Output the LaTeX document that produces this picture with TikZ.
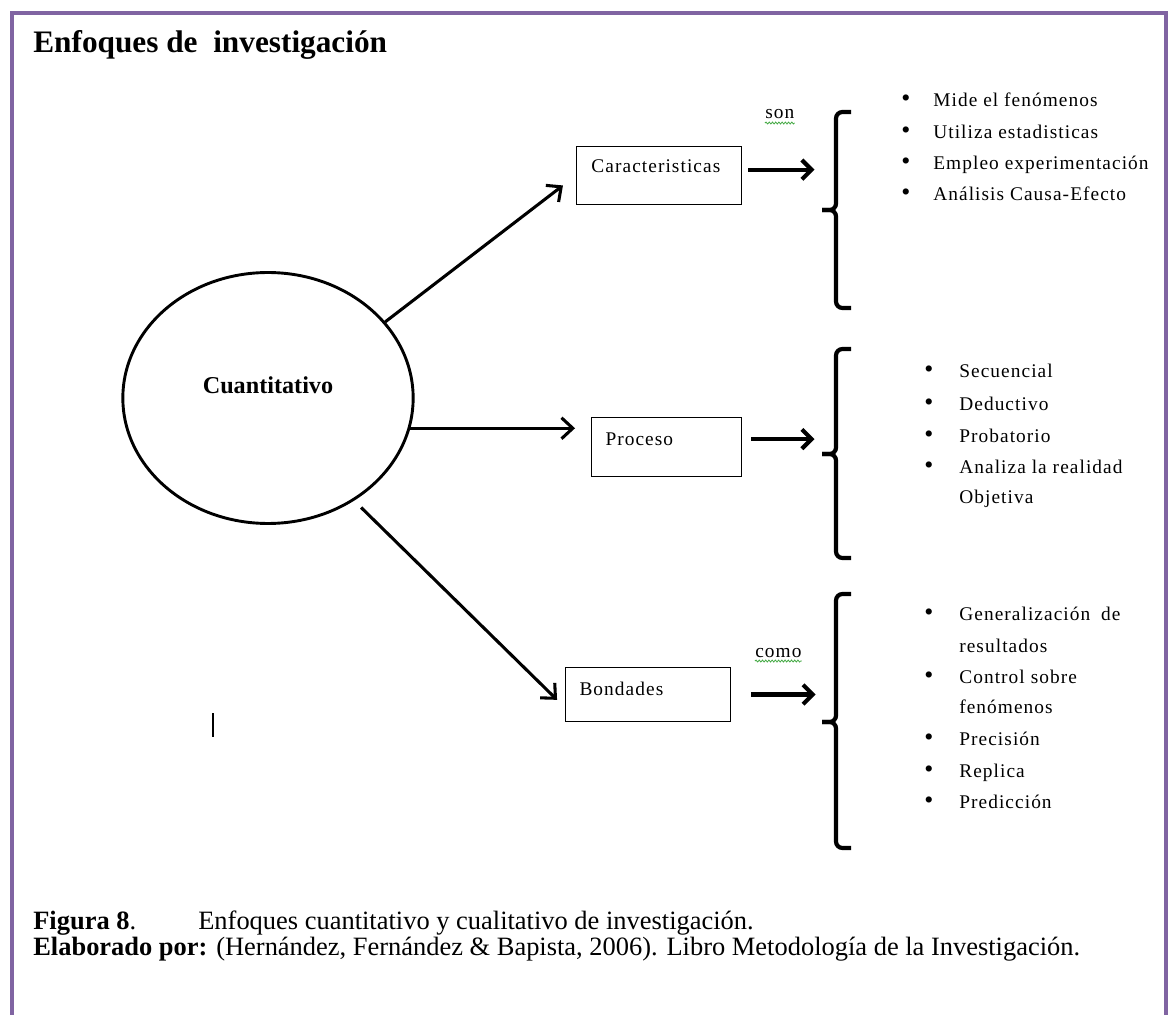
\documentclass[tikz,border=0pt]{standalone}
\usepackage{fontspec}
\setmainfont{Liberation Serif}
\newfontfamily\listfont[LetterSpace=5.5]{Liberation Serif}
\usetikzlibrary{shapes.geometric,arrows.meta,decorations.pathmorphing}

\definecolor{framepurple}{RGB}{128,100,162}
\definecolor{spellgreen}{RGB}{70,170,70}

\tikzset{
  conbox/.style={draw, line width=0.6pt, anchor=north west, inner ysep=0pt,
    align=left, font=\listfont\fontsize{12}{14}\selectfont},
  bigarrow/.style={line width=1.9pt, -{Straight Barb[length=7pt,width=13pt]}},
  smallarrow/.style={line width=2.6pt, -{Straight Barb[length=6pt,width=12pt]}},
  brk/.style={line width=2.6pt, rounded corners=4pt},
  itemtxt/.style={anchor=base west, inner sep=0pt, font=\listfont\fontsize{12}{14}\selectfont},
  bul/.style={anchor=base, inner sep=0pt, font=\fontsize{16}{16}\selectfont},
  captxt/.style={anchor=base west, inner sep=0pt, font=\fontsize{16.4}{16}\selectfont},
  wavy/.style={spellgreen, line width=0.5pt, decorate,
    decoration={snake, amplitude=0.6pt, segment length=2pt}}
}

\begin{document}
\begin{tikzpicture}[x=0.62pt, y=-0.62pt]
\useasboundingbox (0,0) rectangle (1168,1015);
% frame
\draw[framepurple, line width=2.6pt] (12,1015) -- (12,13) -- (1166,13) -- (1166,1015);
\node[anchor=base west, inner sep=0pt, font=\fontsize{19.4}{23}\selectfont\bfseries] (title) at (33,53) {Enfoques de\ \ investigación};

% centre
\node[ellipse, draw, line width=1.8pt, minimum width=180pt, minimum height=155.6pt, inner sep=0pt,
  text height=10pt, text depth=15pt, font=\fontsize{15}{18}\selectfont\bfseries] (cuanti) at (268,398) {Cuantitativo};

% boxes
\node[conbox, inner xsep=9.3pt, text width=83.7pt, text height=16.1pt, text depth=19.8pt] (carac) at (576,146) {Caracteristicas};
\node[conbox, inner xsep=8.7pt, text width=75.6pt, text height=17.4pt, text depth=19.2pt] (proc) at (591,417) {Proceso};
\node[conbox, inner xsep=8.7pt, text width=84.9pt, text height=17.4pt, text depth=16.1pt] (bond) at (565,667) {Bondades};

% brackets
\coordinate (br1) at (836,210);
\coordinate (br2) at (836,454);
\coordinate (br3) at (836,722);
\draw[brk] (851,112) -- (836,112) -- (br1) -- (822,210);
\draw[brk] (822,210) -- (br1) -- (836,308) -- (851,308);
\draw[brk] (851,349) -- (836,349) -- (br2) -- (822,454);
\draw[brk] (822,454) -- (br2) -- (836,558) -- (851,558);
\draw[brk] (851,594) -- (836,594) -- (br3) -- (822,722);
\draw[brk] (822,722) -- (br3) -- (836,848) -- (851,848);

% arrows
\draw[bigarrow, shorten >=10.2pt] (cuanti.33) -- (carac.west);
\draw[bigarrow, shorten >=9.9pt] (cuanti.-12) -- (cuanti.-12 -| proc.west);
\draw[bigarrow, shorten <=6pt, shorten >=6.9pt] (cuanti.-50) -- (bond.189);
\draw[smallarrow, shorten <=4pt, shorten >=13.3pt] (carac.4) -- (carac.4 -| br1);
\draw[smallarrow, shorten <=5.6pt, shorten >=13.3pt] (proc.6) -- (proc.6 -| br2);
\draw[smallarrow, shorten <=12.4pt, shorten >=12.6pt] (bond.east) -- (bond.east -| br3);

% link words
\node[itemtxt] (son) at (765,119) {son};
\draw[wavy] ([yshift=-2.5pt]son.base west) -- ([yshift=-2.5pt]son.base east);
\node[itemtxt] (como) at (755,657) {como};
\draw[wavy] ([yshift=-2.5pt]como.base west) -- ([yshift=-2.5pt]como.base east);

% list 1
\node[bul] (b1a) at (906,107) {\textbullet};
\node[itemtxt] (t1a) at (933,107) {Mide el fenómenos};
\node[bul] (b1b) at (906,139) {\textbullet};
\node[itemtxt] (t1b) at (933,139) {Utiliza estadisticas};
\node[bul] (b1c) at (906,170) {\textbullet};
\node[itemtxt] (t1c) at (933,170) {Empleo experimentación};
\node[bul] (b1d) at (906,201) {\textbullet};
\node[itemtxt] (t1d) at (933,201) {Análisis Causa-Efecto};

% list 2
\node[bul] (b2a) at (929,378) {\textbullet};
\node[itemtxt] (t2a) at (959,378) {Secuencial};
\node[bul] (b2b) at (929,411) {\textbullet};
\node[itemtxt] (t2b) at (959,411) {Deductivo};
\node[bul] (b2c) at (929,443) {\textbullet};
\node[itemtxt] (t2c) at (959,443) {Probatorio};
\node[bul] (b2d) at (929,474) {\textbullet};
\node[itemtxt] (t2d) at (959,474) {Analiza la realidad};
\node[itemtxt] (t2e) at (959,504) {Objetiva};

% list 3
\node[bul] (b3a) at (929,620) {\textbullet};
\node[itemtxt] (t3a) at (959,620) {Generalización\hspace{3pt} de};
\node[itemtxt] (t3b) at (959,652) {resultados};
\node[bul] (b3c) at (929,683) {\textbullet};
\node[itemtxt] (t3c) at (959,683) {Control sobre};
\node[itemtxt] (t3d) at (959,713) {fenómenos};
\node[bul] (b3e) at (929,745) {\textbullet};
\node[itemtxt] (t3e) at (959,745) {Precisión};
\node[bul] (b3f) at (929,777) {\textbullet};
\node[itemtxt] (t3f) at (959,777) {Replica};
\node[bul] (b3g) at (929,808) {\textbullet};
\node[itemtxt] (t3g) at (959,808) {Predicción};

% stray mark
\draw[line width=1.8pt] (213,713) -- (213,737);

% caption
\node[captxt] (fig) at (33,929) {\textbf{Figura 8}.};
\node[captxt] (figtxt) at (198,929) {Enfoques cuantitativo y cualitativo de investigación.};
\node[captxt] (elab) at (33,955) {\textbf{Elaborado por:} (Hernández, Fernández \& Bapista, 2006). Libro Metodología de la Investigación.};
\end{tikzpicture}
\end{document}
